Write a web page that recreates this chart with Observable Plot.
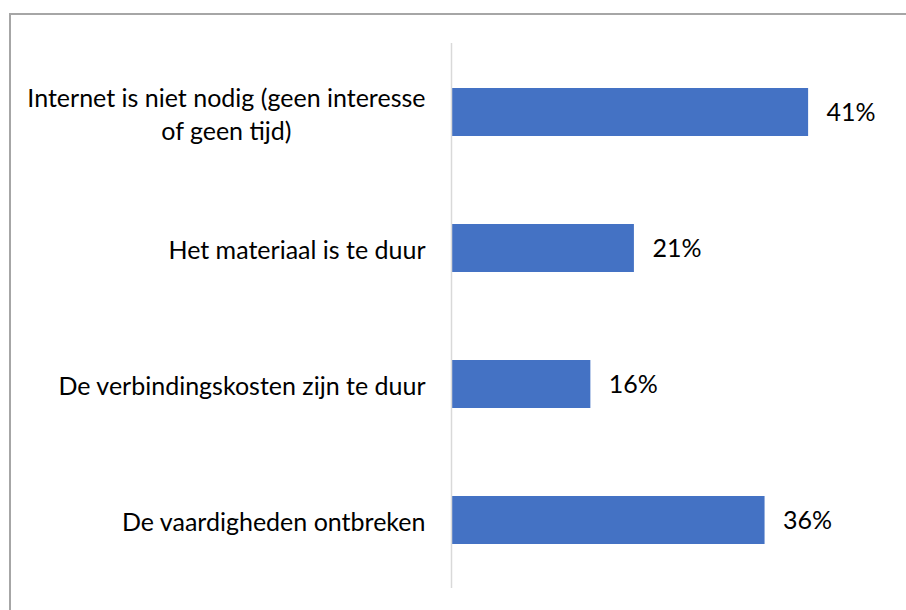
<!DOCTYPE html>
<html>
<head>
<meta charset="utf-8">
<script src="https://cdn.jsdelivr.net/npm/d3@7"></script>
<script src="https://cdn.jsdelivr.net/npm/@observablehq/plot@0.6"></script>
<style>
  html, body { margin: 0; padding: 0; background: #fff; }
  #wrap { position: relative; width: 906px; height: 610px; overflow: hidden; }
  #frame { position: absolute; left: 9px; top: 13px; right: -10px; bottom: -10px;
           border-left: 2px solid #a6a6a6; border-top: 2px solid #a6a6a6; pointer-events: none; }
  #chart { position: absolute; left: 0; top: 0; }
</style>
</head>
<body>
<div id="wrap"><div id="chart"></div><div id="frame"></div></div>
<script>
const categories = [
  "Internet is niet nodig (geen interesse\nof geen tijd)",
  "Het materiaal is te duur",
  "De verbindingskosten zijn te duur",
  "De vaardigheden ontbreken"
];
const values = [41, 21, 16, 36];

const data = categories.map((c, i) => ({category: c, value: values[i]}));

const FONT = "Lato, 'Open Sans', sans-serif";
const FS = 25;

const plot = Plot.plot({
  width: 906,
  height: 610,
  marginLeft: 451,
  marginRight: 19.5,
  marginTop: 43,
  marginBottom: 22,
  style: {fontFamily: FONT, fontSize: FS + "px", color: "#000", background: "transparent"},
  x: {domain: [0, 50], axis: null},
  y: {domain: categories, paddingInner: 0.65, paddingOuter: 0.325},
  marks: [
    Plot.barX(data, {x: "value", y: "category", fill: "#4472c4"}),
    Plot.ruleX([0], {stroke: "#d9d9d9", strokeWidth: 1.5}),
    Plot.axisY({tickSize: 0, tickPadding: 26, fontSize: FS, lineHeight: 1.32, fill: "#000", label: null}),
    Plot.text(data, {x: "value", y: "category", text: d => d.value + "%", textAnchor: "start", dx: 18, fontSize: FS, fill: "#000"})
  ]
});

document.getElementById("chart").appendChild(plot);

// center the lines of multi-line category labels on each other (as in the original)
d3.select(plot).selectAll("g[aria-label='y-axis tick label'] text").each(function () {
  const t = d3.select(this);
  if (t.selectAll("tspan").size() > 1) {
    const w = this.getBBox().width;
    t.attr("text-anchor", "middle");
    t.attr("transform", (t.attr("transform") || "") + ` translate(${-w / 2},0)`);
  }
});
</script>
</body>
</html>
